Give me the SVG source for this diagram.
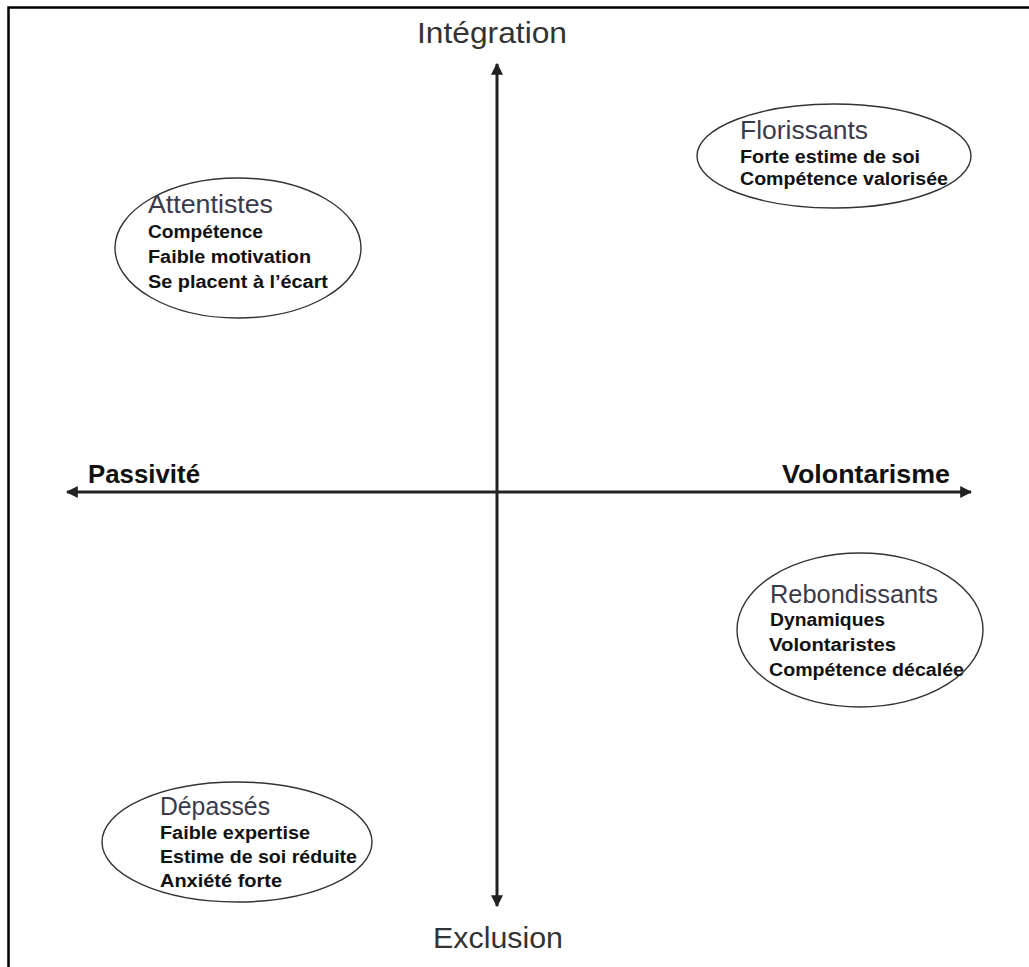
<svg xmlns="http://www.w3.org/2000/svg" width="1029" height="967" viewBox="0 0 1029 967">
<style>
.frame{stroke:#000;stroke-width:2.5;fill:none}
.axis{stroke:#222;stroke-width:3;fill:none}
.oval{stroke:#333;stroke-width:1.4;fill:#fff}
.title{font-family:"Liberation Sans",Arial,sans-serif;font-size:25px;fill:#3a3a4a;font-weight:normal}
.item{font-family:"Liberation Sans",Arial,sans-serif;font-size:18px;fill:#111;font-weight:bold}
.axlab{font-family:"Liberation Sans",Arial,sans-serif;font-size:30px;fill:#333}
.axbold{font-family:"Liberation Sans",Arial,sans-serif;font-size:26px;fill:#111;font-weight:bold}
</style>
<defs>
<marker id="ah" viewBox="0 0 10 10" refX="9" refY="5" markerWidth="4" markerHeight="4" orient="auto" markerUnits="strokeWidth">
<path d="M0,0 L10,5 L0,10 z" fill="#222"/>
</marker>
</defs>
<rect width="1029" height="967" fill="#fff"/>
<path class="frame" d="M8.5,967 L8.5,7.5 L1029,7.5"/>
<g id="connectors">
<line class="axis" x1="497" y1="492" x2="497" y2="64" marker-end="url(#ah)"/>
<line class="axis" x1="497" y1="492" x2="497" y2="906" marker-end="url(#ah)"/>
<line class="axis" x1="497" y1="492" x2="67" y2="492" marker-end="url(#ah)"/>
<line class="axis" x1="497" y1="492" x2="971" y2="492" marker-end="url(#ah)"/>
</g>
<g id="axis-labels">
<text class="axlab" x="417" y="43" textLength="150" lengthAdjust="spacingAndGlyphs">Intégration</text>
<text class="axlab" x="433" y="948" textLength="130" lengthAdjust="spacingAndGlyphs">Exclusion</text>
<text class="axbold" x="88" y="483" textLength="112" lengthAdjust="spacingAndGlyphs">Passivité</text>
<text class="axbold" x="782" y="483" textLength="168" lengthAdjust="spacingAndGlyphs">Volontarisme</text>
</g>
<g id="attentistes">
<ellipse class="oval" cx="238" cy="248" rx="123" ry="70"/>
<text class="title" x="148" y="213" textLength="125" lengthAdjust="spacingAndGlyphs">Attentistes</text>
<text class="item" x="148" y="238" textLength="115" lengthAdjust="spacingAndGlyphs">Compétence</text>
<text class="item" x="148" y="263" textLength="163" lengthAdjust="spacingAndGlyphs">Faible motivation</text>
<text class="item" x="148" y="288" textLength="180" lengthAdjust="spacingAndGlyphs">Se placent à l’écart</text>
</g>
<g id="florissants">
<ellipse class="oval" cx="834" cy="156" rx="137" ry="52"/>
<text class="title" x="740" y="139" textLength="128" lengthAdjust="spacingAndGlyphs">Florissants</text>
<text class="item" x="740" y="163" textLength="180" lengthAdjust="spacingAndGlyphs">Forte estime de soi</text>
<text class="item" x="740" y="185" textLength="208" lengthAdjust="spacingAndGlyphs">Compétence valorisée</text>
</g>
<g id="rebondissants">
<ellipse class="oval" cx="860" cy="630" rx="123" ry="77"/>
<text class="title" x="770" y="603" textLength="168" lengthAdjust="spacingAndGlyphs">Rebondissants</text>
<text class="item" x="770" y="626" textLength="115" lengthAdjust="spacingAndGlyphs">Dynamiques</text>
<text class="item" x="769" y="651" textLength="127" lengthAdjust="spacingAndGlyphs">Volontaristes</text>
<text class="item" x="769" y="676" textLength="195" lengthAdjust="spacingAndGlyphs">Compétence décalée</text>
</g>
<g id="depasses">
<ellipse class="oval" cx="237" cy="842" rx="135" ry="60"/>
<text class="title" x="160" y="815" textLength="110" lengthAdjust="spacingAndGlyphs">Dépassés</text>
<text class="item" x="160" y="839" textLength="150" lengthAdjust="spacingAndGlyphs">Faible expertise</text>
<text class="item" x="160" y="863" textLength="197" lengthAdjust="spacingAndGlyphs">Estime de soi réduite</text>
<text class="item" x="160" y="887" textLength="122" lengthAdjust="spacingAndGlyphs">Anxiété forte</text>
</g>
</svg>
